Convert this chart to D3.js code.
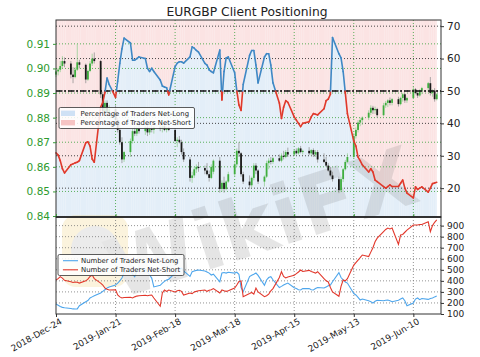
<!DOCTYPE html>
<html><head><meta charset="utf-8">
<script src="https://cdn.jsdelivr.net/npm/d3@7"></script>
<style>body{margin:0;background:#fff;} svg{display:block;font-family:"DejaVu Sans",sans-serif;}</style>
</head><body><svg id="c" width="480" height="357"></svg>
<script>
const dates = [
"2018-12-24","2018-12-25","2018-12-26","2018-12-27","2018-12-28",
"2018-12-31","2019-01-01","2019-01-02","2019-01-03","2019-01-04",
"2019-01-07","2019-01-08","2019-01-09","2019-01-10","2019-01-11",
"2019-01-14","2019-01-15","2019-01-16","2019-01-17","2019-01-18",
"2019-01-21","2019-01-22","2019-01-23","2019-01-24","2019-01-25",
"2019-01-28","2019-01-29","2019-01-30","2019-01-31","2019-02-01",
"2019-02-04","2019-02-05","2019-02-06","2019-02-07","2019-02-08",
"2019-02-11","2019-02-12","2019-02-13","2019-02-14","2019-02-15",
"2019-02-18","2019-02-19","2019-02-20","2019-02-21","2019-02-22",
"2019-02-25","2019-02-26","2019-02-27","2019-02-28","2019-03-01",
"2019-03-04","2019-03-05","2019-03-06","2019-03-07","2019-03-08",
"2019-03-11","2019-03-12","2019-03-13","2019-03-14","2019-03-15",
"2019-03-18","2019-03-19","2019-03-20","2019-03-21","2019-03-22",
"2019-03-25","2019-03-26","2019-03-27","2019-03-28","2019-03-29",
"2019-04-01","2019-04-02","2019-04-03","2019-04-04","2019-04-05",
"2019-04-08","2019-04-09","2019-04-10","2019-04-11","2019-04-12",
"2019-04-15","2019-04-16","2019-04-17","2019-04-18","2019-04-19",
"2019-04-22","2019-04-23","2019-04-24","2019-04-25","2019-04-26",
"2019-04-29","2019-04-30","2019-05-01","2019-05-02","2019-05-03",
"2019-05-06","2019-05-07","2019-05-08","2019-05-09","2019-05-10",
"2019-05-13","2019-05-14","2019-05-15","2019-05-16","2019-05-17",
"2019-05-20","2019-05-21","2019-05-22","2019-05-23","2019-05-24",
"2019-05-27","2019-05-28","2019-05-29","2019-05-30","2019-05-31",
"2019-06-03","2019-06-04","2019-06-05","2019-06-06","2019-06-07",
"2019-06-10","2019-06-11","2019-06-12","2019-06-13","2019-06-14",
"2019-06-17","2019-06-18","2019-06-19","2019-06-20","2019-06-21"];

const pctNetLong = [
30.9,30.2,28.5,26.0,24.7, 27.2,27.5,27.8,28.0,28.5, 34.0,34.3,33.0,29.0,28.0,
45.0,46.5,49.5,54.0,52.0, 48.0,53.0,58.5,63.0,66.3, 64.8,59.5,59.5,60.0,60.5,
60.0,57.0,56.0,57.0,56.0, 53.4,51.5,51.2,51.0,48.8, 57.5,58.6,59.0,59.0,58.6,
60.5,63.6,63.2,62.5,62.0, 58.5,58.0,56.5,56.0,55.6, 62.6,47.2,56.0,60.2,60.5,
55.6,50.0,45.7,44.0,52.0, 61.0,62.5,62.5,58.0,52.5, 60.5,61.5,61.5,58.0,52.5,
46.3,41.5,45.0,47.0,46.5, 42.0,41.0,40.0,39.0,40.0, 40.5,42.0,43.0,42.8,42.6,
44.5,47.0,47.5,49.0,66.5, 61.5,60.2,56.0,49.5,43.0, 34.5,33.0,29.6,28.5,27.2,
25.0,26.0,25.0,22.5,22.0, 20.5,20.0,20.5,21.0,20.5, 20.5,21.5,22.5,20.0,18.5,
17.0,20.4,19.6,20.0,20.4, 18.8,20.0,21.4,21.6,21.8];

const tradersNetLong = [
190,180,168,160,156, 150,146,145,146,175, 211,222,245,255,265,
290,305,320,335,344, 362,380,400,426,475, 498,460,438,490,516,
505,480,453,425,345, 360,380,395,408,415, 470,483,500,516,490,
440,483,490,495,498, 490,480,470,453,460, 392,471,475,470,478,
470,478,460,340,302, 438,450,460,471,450, 360,408,430,438,410,
340,350,362,372,380, 338,330,320,317,330, 330,320,317,330,340,
335,345,355,362,392, 475,430,408,390,380, 285,272,250,227,235,
220,212,199,215,225, 220,225,227,220,211, 225,235,245,220,175,
200,235,245,230,240, 232,240,245,255,263];

const tradersNetShort = [
408,420,438,425,405, 392,385,390,388,380, 400,415,440,453,420,
380,362,335,325,317, 320,272,255,245,250, 252,245,255,262,265,
270,265,270,272,245, 170,290,317,305,317, 300,310,315,305,272,
290,285,300,305,310, 317,305,315,320,330, 290,317,310,305,310,
335,362,395,400,257, 285,295,280,335,300, 257,265,280,310,330,
430,483,440,426,435, 450,465,480,498,485, 495,485,478,470,483,
420,400,390,340,300, 260,350,408,400,420, 543,565,588,610,634,
620,660,700,754,787, 845,865,878,870,878, 730,815,820,840,860,
905,905,905,910,910, 935,845,900,930,951];

const priceOpen = [
.8975,.8988,.8995,.9010,.9030, .9020,.8975,.8965,.8995,.9025, .9015,.8955,.8990,.9020,.9040,
.9030,.8895,.8825,.8860,.8820, .8835,.8790,.8750,.8700,.8630, .8660,.8705,.8745,.8735,.8755,
.8745,.8760,.8740,.8755,.8750, .8760,.8755,.8765,.8750,.8760, .8750,.8705,.8710,.8700,.8660,
.8630,.8555,.8565,.8590,.8600, .8595,.8585,.8570,.8555,.8580, .8625,.8510,.8535,.8510,.8540,
.8570,.8610,.8665,.8655,.8570, .8540,.8525,.8555,.8605,.8585, .8540,.8560,.8615,.8625,.8620,
.8635,.8625,.8645,.8640,.8660, .8650,.8665,.8655,.8675,.8660, .8665,.8655,.8668,.8650,.8660,
.8630,.8620,.8605,.8585,.8565, .8550,.8505,.8550,.8590,.8620, .8640,.8725,.8750,.8780,.8790,
.8800,.8820,.8840,.8830,.8835, .8810,.8850,.8860,.8870,.8860, .8875,.8855,.8880,.8895,.8870,
.8880,.8915,.8900,.8890,.8910, .8920,.8940,.8900,.8910,.8875];
const priceHigh = [
.8995,.9002,.9030,.9050,.9045, .9030,.9005,.9005,.9100,.9035, .9020,.8995,.9030,.9060,.9065,
.9035,.8905,.8870,.8870,.8850, .8850,.8800,.8790,.8720,.8665, .8715,.8755,.8765,.8765,.8770,
.8765,.8770,.8765,.8770,.8765, .8775,.8770,.8775,.8765,.8770, .8755,.8720,.8725,.8710,.8675,
.8640,.8580,.8600,.8610,.8620, .8605,.8615,.8585,.8610,.8630, .8640,.8545,.8560,.8545,.8580,
.8620,.8675,.8700,.8660,.8580, .8565,.8560,.8615,.8615,.8590, .8565,.8625,.8635,.8640,.8640,
.8650,.8655,.8665,.8668,.8678, .8670,.8675,.8680,.8685,.8670, .8680,.8672,.8675,.8668,.8668,
.8655,.8640,.8615,.8600,.8580, .8560,.8560,.8595,.8628,.8655, .8737,.8760,.8790,.8800,.8805,
.8830,.8850,.8848,.8845,.8840, .8860,.8868,.8875,.8882,.8880, .8885,.8885,.8900,.8898,.8885,
.8925,.8920,.8910,.8915,.8925, .8945,.8965,.8915,.8920,.8900];
const priceLow = [
.8965,.8972,.8985,.9000,.9005, .8960,.8940,.8960,.8990,.9000, .8940,.8950,.8985,.9010,.9020,
.8880,.8810,.8815,.8805,.8795, .8780,.8740,.8690,.8615,.8620, .8640,.8695,.8725,.8725,.8735,
.8730,.8725,.8730,.8740,.8735, .8745,.8740,.8745,.8740,.8745, .8700,.8680,.8695,.8650,.8620,
.8540,.8535,.8555,.8575,.8580, .8570,.8565,.8540,.8550,.8570, .8495,.8500,.8495,.8505,.8535,
.8560,.8600,.8640,.8560,.8530, .8510,.8515,.8545,.8570,.8530, .8520,.8555,.8590,.8610,.8612,
.8620,.8618,.8630,.8635,.8640, .8645,.8650,.8650,.8655,.8650, .8648,.8645,.8640,.8640,.8617,
.8615,.8600,.8580,.8560,.8540, .8493,.8497,.8538,.8585,.8615, .8635,.8715,.8740,.8765,.8770,
.8790,.8810,.8815,.8815,.8800, .8805,.8840,.8843,.8850,.8850, .8845,.8850,.8865,.8860,.8860,
.8875,.8895,.8880,.8885,.8895, .8905,.8890,.8885,.8865,.8870];
const priceClose = [
.8988,.8995,.9010,.9030,.9020, .8975,.8965,.8995,.9025,.9015, .8955,.8990,.9020,.9040,.9030,
.8895,.8825,.8860,.8820,.8835, .8790,.8750,.8700,.8630,.8660, .8705,.8745,.8735,.8755,.8745,
.8760,.8740,.8755,.8750,.8760, .8755,.8765,.8750,.8760,.8750, .8705,.8710,.8700,.8660,.8630,
.8555,.8565,.8590,.8600,.8595, .8585,.8570,.8555,.8600,.8625, .8510,.8535,.8510,.8540,.8570,
.8610,.8665,.8655,.8570,.8540, .8525,.8555,.8605,.8585,.8540, .8560,.8615,.8625,.8620,.8635,
.8625,.8645,.8640,.8660,.8650, .8665,.8655,.8675,.8660,.8665, .8655,.8668,.8650,.8660,.8630,
.8620,.8605,.8585,.8565,.8550, .8505,.8550,.8590,.8620,.8640, .8725,.8750,.8780,.8790,.8800,
.8820,.8840,.8830,.8835,.8810, .8850,.8860,.8870,.8860,.8875, .8855,.8880,.8895,.8870,.8880,
.8915,.8900,.8890,.8910,.8920, .8940,.8900,.8910,.8875,.8895];

const dateTicks = ["2018-12-24","2019-01-21","2019-02-18","2019-03-18","2019-04-15","2019-05-13","2019-06-10"];
const priceTicks = [0.84,0.85,0.86,0.87,0.88,0.89,0.90,0.91];
const pctTicks = [20,30,40,50,60,70];
const countTicks = [100,200,300,400,500,600,700,800,900];
const titleText = "EURGBP Client Positioning";
const legendTop = ["Percentage of Traders Net-Long","Percentage of Traders Net-Short"];
const legendBottom = ["Number of Traders Net-Long","Number of Traders Net-Short"];

const svg = d3.select("#c");
const L=56,R=441,T=20,M=217,B=314;
const parse = d3.timeParse("%Y-%m-%d");
const dd = dates.map(parse);
const x = d3.scaleTime().domain([parse("2018-12-24"), parse("2019-06-23")]).range([L,R]);
const yP = d3.scaleLinear().domain([0.8396,0.9197]).range([M,T]);
const yS = d3.scaleLinear().domain([11.1,71.9]).range([M,T]);
const yN = d3.scaleLinear().domain([100,978]).range([B,M]);
const blue="#3f88c5", red="#e0392b";

svg.append("rect").attr("width",480).attr("height",357).attr("fill","#fff");
svg.append("text").attr("x",247).attr("y",15.5).attr("text-anchor","middle")
  .attr("font-size",12.3).attr("fill","#222").text(titleText);

// sentiment background areas
const data = dd.map((d,i)=>({d, p:pctNetLong[i]}));
svg.append("path").datum(data).attr("fill","#fbe3e3")
  .attr("d", d3.area().x(d=>x(d.d)).y0(T).y1(d=>yS(d.p)));
svg.append("path").datum(data).attr("fill","#e3eef8")
  .attr("d", d3.area().x(d=>x(d.d)).y0(M).y1(d=>yS(d.p)));
// faint stripes
svg.append("g").selectAll("line").data(dd).join("line")
  .attr("x1",d=>x(d)+1).attr("x2",d=>x(d)+1).attr("y1",T).attr("y2",M)
  .attr("stroke","#fff").attr("stroke-opacity",0.35).attr("stroke-width",0.6);

// watermark
const wm = svg.append("g").attr("opacity",0.16);
wm.append("rect").attr("x",62).attr("y",215).attr("width",66).attr("height",72).attr("rx",14).attr("fill","#e8b830");
wm.append("circle").attr("cx",95).attr("cy",250).attr("r",24).attr("fill","#888");
wm.append("text").attr("transform","translate(270,250) rotate(-18)").attr("text-anchor","middle")
  .attr("font-size",82).attr("font-weight","bold").attr("fill","#666").text("WikiFX");

// grids top
const gTop = svg.append("g");
gTop.selectAll(".gp").data(priceTicks.slice(1)).join("line")
  .attr("x1",L).attr("x2",R).attr("y1",d=>yP(d)).attr("y2",d=>yP(d))
  .attr("stroke","#4aa84a").attr("stroke-width",0.9).attr("stroke-dasharray","1,2");
gTop.selectAll(".gs").data(pctTicks).join("line")
  .attr("x1",L).attr("x2",R).attr("y1",d=>yS(d)).attr("y2",d=>yS(d))
  .attr("stroke","#333").attr("stroke-width",0.9).attr("stroke-dasharray","1,2");
gTop.selectAll(".gx").data(dateTicks.slice(1).map(parse)).join("line")
  .attr("x1",d=>x(d)).attr("x2",d=>x(d)).attr("y1",T).attr("y2",M)
  .attr("stroke","#4aa84a").attr("stroke-width",0.9).attr("stroke-dasharray","1,2");

// candles
const cg = svg.append("g");
dd.forEach((d,i)=>{
  const up = priceClose[i]>=priceOpen[i];
  const col = up ? "#3fae3f" : "#1a1a1a";
  cg.append("line").attr("x1",x(d)).attr("x2",x(d)).attr("y1",yP(priceHigh[i])).attr("y2",yP(priceLow[i]))
    .attr("stroke", up? "#8acb8a":"#888").attr("stroke-width",0.7);
  const y1=yP(Math.max(priceOpen[i],priceClose[i])), y2=yP(Math.min(priceOpen[i],priceClose[i]));
  cg.append("rect").attr("x",x(d)-0.9).attr("width",1.8).attr("y",y1).attr("height",Math.max(1,y2-y1)).attr("fill",col);
});

// 50% line
svg.append("line").attr("x1",L).attr("x2",R).attr("y1",yS(50)).attr("y2",yS(50))
  .attr("stroke","#111").attr("stroke-width",1.6).attr("stroke-dasharray","6,2,2,2");

// pct line, coloured by side of 50
const lg = svg.append("g").attr("stroke-width",1.6).attr("stroke-linecap","round").attr("fill","none");
for(let i=0;i<data.length-1;i++){
  const a=data[i], b=data[i+1];
  const ax=x(a.d), bx=x(b.d);
  const col=v=>v>=50?blue:red;
  if((a.p>=50)===(b.p>=50)){
    lg.append("line").attr("x1",ax).attr("y1",yS(a.p)).attr("x2",bx).attr("y2",yS(b.p)).attr("stroke",col(a.p));
  } else {
    const t=(50-a.p)/(b.p-a.p), mx=ax+t*(bx-ax);
    lg.append("line").attr("x1",ax).attr("y1",yS(a.p)).attr("x2",mx).attr("y2",yS(50)).attr("stroke",col(a.p));
    lg.append("line").attr("x1",mx).attr("y1",yS(50)).attr("x2",bx).attr("y2",yS(b.p)).attr("stroke",col(b.p));
  }
}

// top frame
svg.append("rect").attr("x",L).attr("y",T).attr("width",R-L).attr("height",M-T)
  .attr("fill","none").attr("stroke","#333").attr("stroke-width",1);

// axes top
const axL = svg.append("g").attr("transform",`translate(${L},0)`)
  .call(d3.axisLeft(yP).tickValues(priceTicks).tickFormat(d3.format(".2f")).tickSize(3));
axL.select(".domain").remove();
axL.selectAll("line").attr("stroke","#3a9a3a");
axL.selectAll("text").attr("fill","#2e9a2e").attr("font-size",10.5).attr("font-family","DejaVu Sans");
const axR = svg.append("g").attr("transform",`translate(${R},0)`)
  .call(d3.axisRight(yS).tickValues(pctTicks).tickSize(3));
axR.select(".domain").remove();
axR.selectAll("line").attr("stroke","#333");
axR.selectAll("text").attr("fill","#222").attr("font-size",10.5).attr("font-family","DejaVu Sans");
const axTB = svg.append("g").attr("transform",`translate(0,${M})`)
  .call(d3.axisBottom(x).tickValues(dateTicks.map(parse)).tickSize(-3).tickFormat(""));
axTB.select(".domain").remove();
axTB.selectAll("line").attr("stroke","#3a9a3a");

// top legend
const lt = svg.append("g");
lt.append("rect").attr("x",59).attr("y",107.5).attr("width",135.5).attr("height",21).attr("rx",1.5)
  .attr("fill","#fff").attr("fill-opacity",0.85).attr("stroke","#333").attr("stroke-width",0.8);
[["#cfe1f5",113.3],["#f6c4c4",122.7]].forEach((c,i)=>{
  lt.append("rect").attr("x",61).attr("y",c[1]-2.7).attr("width",14).attr("height",5.4).attr("fill",c[0]);
  lt.append("text").attr("x",80.5).attr("y",c[1]).attr("dy","0.35em").attr("font-size",6.9).attr("fill","#222").text(legendTop[i]);
});

// bottom panel grid
const gB = svg.append("g");
gB.selectAll(".h").data(countTicks.slice(1)).join("line")
  .attr("x1",L).attr("x2",R).attr("y1",d=>yN(d)).attr("y2",d=>yN(d))
  .attr("stroke","#777").attr("stroke-width",0.8).attr("stroke-dasharray","1,2");
gB.selectAll(".v").data(dateTicks.slice(1).map(parse)).join("line")
  .attr("x1",d=>x(d)).attr("x2",d=>x(d)).attr("y1",M).attr("y2",B)
  .attr("stroke","#777").attr("stroke-width",0.8).attr("stroke-dasharray","1,2");

const lineN = key => d3.line().x((d,i)=>x(dd[i])).y(d=>yN(d));
svg.append("path").datum(tradersNetLong).attr("fill","none").attr("stroke","#4ea6ec").attr("stroke-width",1.1).attr("d",lineN());
svg.append("path").datum(tradersNetShort).attr("fill","none").attr("stroke","#e2372b").attr("stroke-width",1.1).attr("d",lineN());

svg.append("rect").attr("x",L).attr("y",M).attr("width",R-L).attr("height",B-M)
  .attr("fill","none").attr("stroke","#333").attr("stroke-width",1);
svg.append("line").attr("x1",L).attr("x2",R).attr("y1",M).attr("y2",M).attr("stroke","#222").attr("stroke-width",1.4);

const axBR = svg.append("g").attr("transform",`translate(${R},0)`)
  .call(d3.axisRight(yN).tickValues(countTicks).tickSize(3));
axBR.select(".domain").remove();
axBR.selectAll("line").attr("stroke","#333");
axBR.selectAll("text").attr("fill","#222").attr("font-size",9).attr("font-family","DejaVu Sans");

const axX = svg.append("g").attr("transform",`translate(0,${B})`)
  .call(d3.axisBottom(x).tickValues(dateTicks.map(parse)).tickSize(3).tickFormat(d3.timeFormat("%Y-%b-%d")));
axX.select(".domain").remove();
axX.selectAll("line").attr("stroke","#333");
axX.selectAll("text").attr("fill","#222").attr("font-size",8.8).attr("font-family","DejaVu Sans")
  .attr("text-anchor","end").attr("transform","translate(2,2) rotate(-30)").attr("dy","0.6em").attr("y",3);

// bottom legend
const lb = svg.append("g");
lb.append("rect").attr("x",58).attr("y",254.5).attr("width",126).attr("height",21).attr("rx",1.5)
  .attr("fill","#fff").attr("fill-opacity",0.85).attr("stroke","#333").attr("stroke-width",0.8);
[["#4ea6ec",260.7],["#e2372b",269.8]].forEach((c,i)=>{
  lb.append("line").attr("x1",63).attr("x2",78).attr("y1",c[1]).attr("y2",c[1]).attr("stroke",c[0]).attr("stroke-width",1.1);
  lb.append("text").attr("x",81).attr("y",c[1]).attr("dy","0.35em").attr("font-size",6.9).attr("fill","#222").text(legendBottom[i]);
});
</script></body></html>
